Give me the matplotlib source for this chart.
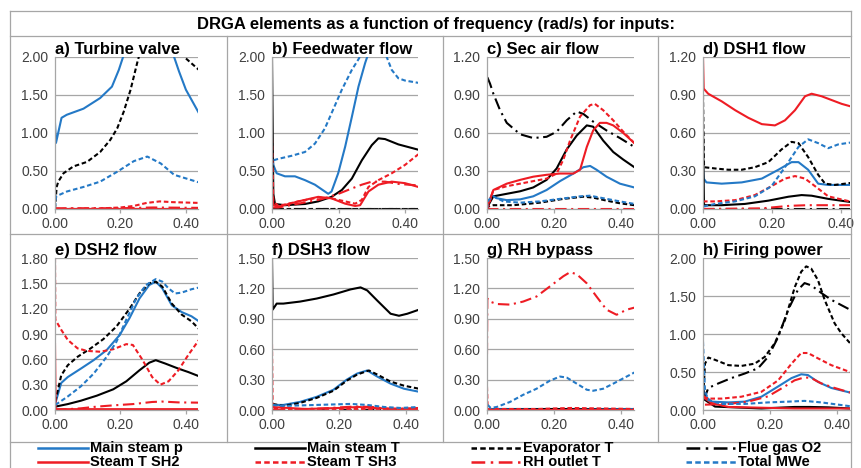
import matplotlib
matplotlib.use("Agg")
import matplotlib.pyplot as plt
from matplotlib.lines import Line2D
from matplotlib.ticker import FormatStrFormatter, MultipleLocator

plt.rcParams["font.family"] = ["Liberation Sans", "DejaVu Sans"]

# ----- series order, colours, line styles -----
SERIES = ["Main steam p", "Main steam T", "Evaporator T", "Flue gas O2",
          "Steam T SH2", "Steam T SH3", "RH outlet T", "Total MWe"]
BLUE = "#2479c6"
RED = "#ee1c24"
BLACK = "#000000"
DASH = (0, (2.2, 1.3))
DASHDOT = (0, (5.5, 2.2, 1.0, 2.2))
STYLE = {
    "Main steam p": (BLUE, "-"),
    "Main steam T": (BLACK, "-"),
    "Evaporator T": (BLACK, DASH),
    "Flue gas O2":  (BLACK, DASHDOT),
    "Steam T SH2":  (RED, "-"),
    "Steam T SH3":  (RED, DASH),
    "RH outlet T":  (RED, DASHDOT),
    "Total MWe":    (BLUE, DASH),
}

# ----- DRGA magnitudes, (frequency list, value list) per output -----
PANEL_A = {
    "Main steam p": ([0, 0.003, 0.02, 0.036, 0.087, 0.138, 0.174, 0.195, 0.208, 0.25, 0.30, 0.34, 0.364, 0.379, 0.40, 0.44],
                     [1.13, 0.87, 1.20, 1.24, 1.32, 1.46, 1.61, 1.83, 2.0, 2.6, 2.9, 2.5, 2.0, 1.81, 1.57, 1.26]),
    "Main steam T": ([0, 0.44], [0.0, 0.0]),
    "Evaporator T": ([0, 0.005, 0.01, 0.026, 0.056, 0.098, 0.138, 0.169, 0.19, 0.21, 0.231, 0.251, 0.256, 0.30, 0.36, 0.395, 0.44],
                     [0.0, 0.29, 0.36, 0.47, 0.56, 0.62, 0.75, 0.91, 1.06, 1.28, 1.57, 1.92, 2.0, 2.6, 2.4, 2.0, 1.83]),
    "Flue gas O2":  ([0, 0.44], [0.0, 0.0]),
    "Steam T SH2":  ([0, 0.44], [0.005, 0.005]),
    "Steam T SH3":  ([0, 0.15, 0.2, 0.24, 0.28, 0.32, 0.36, 0.44],
                     [0.0, 0.01, 0.02, 0.04, 0.08, 0.10, 0.09, 0.08]),
    "RH outlet T":  ([0, 0.2, 0.3, 0.44], [0.01, 0.01, 0.02, 0.015]),
    "Total MWe":    ([0, 0.003, 0.005, 0.036, 0.087, 0.138, 0.19, 0.241, 0.282, 0.323, 0.364, 0.44],
                     [0.02, 0.15, 0.17, 0.23, 0.29, 0.36, 0.49, 0.63, 0.69, 0.60, 0.45, 0.35]),
}
PANEL_B = {
    "Main steam p": ([0, 0.004, 0.014, 0.039, 0.069, 0.099, 0.129, 0.159, 0.169, 0.179, 0.199, 0.22, 0.24, 0.26, 0.28, 0.29, 0.33, 0.44],
                     [0.80, 0.58, 0.47, 0.43, 0.43, 0.38, 0.32, 0.23, 0.20, 0.23, 0.47, 0.82, 1.21, 1.61, 1.92, 2.05, 2.6, 3.0]),
    "Main steam T": ([0, 0.004, 0.009, 0.039, 0.099, 0.139, 0.179, 0.21, 0.24, 0.27, 0.30, 0.32, 0.34, 0.38, 0.44],
                     [2.0, 0.2, 0.066, 0.05, 0.066, 0.10, 0.16, 0.25, 0.40, 0.64, 0.84, 0.93, 0.92, 0.85, 0.78]),
    "Evaporator T": ([0, 0.44], [0.0, 0.0]),
    "Flue gas O2":  ([0, 0.44], [0.003, 0.003]),
    "Steam T SH2":  ([0, 0.004, 0.019, 0.079, 0.139, 0.179, 0.22, 0.25, 0.265, 0.29, 0.32, 0.36, 0.40, 0.44],
                     [0.3, 0.05, 0.03, 0.10, 0.16, 0.14, 0.07, 0.04, 0.05, 0.23, 0.32, 0.36, 0.34, 0.29]),
    "Steam T SH3":  ([0, 0.004, 0.019, 0.079, 0.139, 0.179, 0.22, 0.25, 0.27, 0.29, 0.32, 0.36, 0.40, 0.44],
                     [0.93, 0.1, 0.04, 0.10, 0.15, 0.14, 0.10, 0.07, 0.12, 0.29, 0.38, 0.47, 0.58, 0.72]),
    "RH outlet T":  ([0, 0.019, 0.079, 0.15, 0.20, 0.24, 0.27, 0.30, 0.34, 0.38, 0.44],
                     [0.02, 0.02, 0.07, 0.13, 0.20, 0.27, 0.32, 0.36, 0.36, 0.33, 0.31]),
    "Total MWe":    ([0, 0.004, 0.019, 0.059, 0.099, 0.129, 0.159, 0.179, 0.21, 0.24, 0.26, 0.27, 0.30, 0.335, 0.345, 0.36, 0.38, 0.40, 0.44],
                     [0.55, 0.64, 0.66, 0.70, 0.75, 0.86, 1.06, 1.26, 1.57, 1.83, 1.97, 2.05, 2.4, 2.3, 2.0, 1.83, 1.72, 1.69, 1.66]),
}
PANEL_C = {
    "Main steam p": ([0, 0.004, 0.014, 0.029, 0.059, 0.099, 0.138, 0.178, 0.218, 0.258, 0.288, 0.308, 0.327, 0.357, 0.397, 0.44],
                     [0.0, 0.04, 0.11, 0.085, 0.07, 0.076, 0.10, 0.15, 0.22, 0.28, 0.33, 0.34, 0.31, 0.255, 0.20, 0.17]),
    "Main steam T": ([0, 0.004, 0.019, 0.059, 0.099, 0.138, 0.178, 0.208, 0.238, 0.268, 0.298, 0.317, 0.347, 0.377, 0.407, 0.44],
                     [0.0, 0.03, 0.10, 0.12, 0.14, 0.17, 0.23, 0.32, 0.47, 0.58, 0.66, 0.65, 0.54, 0.45, 0.39, 0.33]),
    "Evaporator T": ([0, 0.004, 0.019, 0.079, 0.158, 0.228, 0.288, 0.317, 0.357, 0.397, 0.44],
                     [0.0, 0.02, 0.03, 0.03, 0.05, 0.08, 0.097, 0.09, 0.066, 0.045, 0.03]),
    "Flue gas O2":  ([0.001, 0.009, 0.019, 0.039, 0.059, 0.099, 0.138, 0.178, 0.208, 0.238, 0.268, 0.288, 0.317, 0.357, 0.397, 0.44],
                     [1.04, 0.99, 0.91, 0.78, 0.68, 0.59, 0.56, 0.57, 0.61, 0.70, 0.77, 0.75, 0.69, 0.62, 0.56, 0.49]),
    "Steam T SH2":  ([0, 0.004, 0.019, 0.059, 0.099, 0.138, 0.178, 0.218, 0.258, 0.278, 0.298, 0.317, 0.337, 0.357, 0.377, 0.407, 0.44],
                     [0.0, 0.04, 0.15, 0.20, 0.23, 0.255, 0.27, 0.28, 0.28, 0.31, 0.49, 0.62, 0.68, 0.68, 0.66, 0.60, 0.52]),
    "Steam T SH3":  ([0, 0.004, 0.019, 0.059, 0.099, 0.138, 0.178, 0.208, 0.228, 0.248, 0.278, 0.308, 0.322, 0.347, 0.377, 0.407, 0.44],
                     [0.0, 0.02, 0.15, 0.18, 0.20, 0.22, 0.24, 0.28, 0.39, 0.54, 0.73, 0.82, 0.83, 0.78, 0.70, 0.61, 0.52]),
    "RH outlet T":  ([0, 0.44], [0.003, 0.003]),
    "Total MWe":    ([0, 0.004, 0.019, 0.049, 0.099, 0.158, 0.218, 0.278, 0.308, 0.357, 0.397, 0.44],
                     [0.0, 0.07, 0.10, 0.06, 0.05, 0.06, 0.08, 0.10, 0.105, 0.08, 0.06, 0.04]),
}
PANEL_D = {
    "Main steam p": ([0, 0.002, 0.01, 0.054, 0.112, 0.17, 0.218, 0.256, 0.276, 0.304, 0.333, 0.362, 0.44],
                     [0.32, 0.24, 0.21, 0.20, 0.21, 0.24, 0.31, 0.37, 0.37, 0.31, 0.20, 0.19, 0.19]),
    "Main steam T": ([0, 0.003, 0.054, 0.121, 0.189, 0.247, 0.285, 0.314, 0.362, 0.44],
                     [0.62, 0.03, 0.03, 0.04, 0.066, 0.097, 0.11, 0.105, 0.08, 0.05]),
    "Evaporator T": ([0, 0.003, 0.035, 0.073, 0.112, 0.15, 0.189, 0.227, 0.256, 0.276, 0.304, 0.333, 0.353, 0.381, 0.44],
                     [0.9, 0.33, 0.32, 0.31, 0.31, 0.33, 0.37, 0.47, 0.53, 0.52, 0.41, 0.27, 0.20, 0.19, 0.21]),
    "Flue gas O2":  ([0, 0.44], [0.0, 0.0]),
    "Steam T SH2":  ([0, 0.002, 0.015, 0.054, 0.093, 0.131, 0.17, 0.208, 0.237, 0.266, 0.295, 0.314, 0.343, 0.372, 0.401, 0.44],
                     [1.2, 0.95, 0.91, 0.85, 0.78, 0.72, 0.67, 0.66, 0.70, 0.78, 0.89, 0.91, 0.89, 0.86, 0.83, 0.80]),
    "Steam T SH3":  ([0, 0.035, 0.093, 0.15, 0.198, 0.237, 0.266, 0.295, 0.324, 0.362, 0.44],
                     [0.06, 0.06, 0.07, 0.11, 0.18, 0.24, 0.26, 0.24, 0.18, 0.10, 0.05]),
    "RH outlet T":  ([0, 0.17, 0.25, 0.30, 0.44], [0.0, 0.005, 0.025, 0.03, 0.03]),
    "Total MWe":    ([0.002, 0.035, 0.093, 0.15, 0.198, 0.237, 0.276, 0.304, 0.333, 0.362, 0.391, 0.44],
                     [0.02, 0.04, 0.06, 0.10, 0.18, 0.33, 0.49, 0.55, 0.52, 0.48, 0.51, 0.53]),
}
PANEL_E = {
    "Main steam p": ([0.001, 0.019, 0.039, 0.079, 0.118, 0.158, 0.198, 0.228, 0.258, 0.288, 0.308, 0.328, 0.357, 0.387, 0.417, 0.44],
                     [0.08, 0.32, 0.39, 0.49, 0.59, 0.71, 0.89, 1.09, 1.32, 1.48, 1.52, 1.44, 1.24, 1.16, 1.11, 1.05]),
    "Main steam T": ([0.001, 0.039, 0.079, 0.128, 0.178, 0.218, 0.258, 0.288, 0.308, 0.337, 0.377, 0.407, 0.44],
                     [0.04, 0.07, 0.11, 0.17, 0.245, 0.34, 0.47, 0.56, 0.59, 0.55, 0.49, 0.45, 0.40]),
    "Evaporator T": ([0.001, 0.019, 0.039, 0.069, 0.109, 0.148, 0.188, 0.228, 0.258, 0.288, 0.308, 0.328, 0.357, 0.387, 0.417, 0.44],
                     [0.10, 0.41, 0.53, 0.63, 0.73, 0.84, 0.99, 1.20, 1.38, 1.50, 1.52, 1.46, 1.26, 1.13, 1.05, 0.96]),
    "Flue gas O2":  ([0, 0.44], [0.0, 0.0]),
    "Steam T SH2":  ([0, 0.002, 0.44], [0.78, 0.01, 0.01]),
    "Steam T SH3":  ([0, 0.001, 0.019, 0.039, 0.069, 0.098, 0.138, 0.178, 0.218, 0.238, 0.268, 0.297, 0.322, 0.347, 0.377, 0.407, 0.44],
                     [1.8, 1.07, 0.95, 0.83, 0.73, 0.70, 0.69, 0.72, 0.78, 0.77, 0.59, 0.39, 0.30, 0.34, 0.47, 0.65, 0.83]),
    "RH outlet T":  ([0, 0.079, 0.128, 0.178, 0.238, 0.297, 0.327, 0.377, 0.44],
                     [0.0, 0.02, 0.04, 0.055, 0.07, 0.095, 0.10, 0.09, 0.087]),
    "Total MWe":    ([0.001, 0.039, 0.079, 0.118, 0.158, 0.188, 0.218, 0.248, 0.278, 0.308, 0.328, 0.347, 0.367, 0.387, 0.417, 0.44],
                     [0.06, 0.16, 0.28, 0.43, 0.63, 0.81, 1.07, 1.32, 1.48, 1.55, 1.52, 1.44, 1.38, 1.39, 1.43, 1.45]),
}
PANEL_F = {
    "Main steam p": ([0.002, 0.034, 0.084, 0.134, 0.184, 0.224, 0.255, 0.285, 0.315, 0.355, 0.395, 0.44],
                     [0.05, 0.05, 0.08, 0.13, 0.20, 0.30, 0.36, 0.39, 0.33, 0.26, 0.21, 0.18]),
    "Main steam T": ([0, 0.002, 0.014, 0.034, 0.084, 0.134, 0.184, 0.235, 0.265, 0.285, 0.315, 0.355, 0.38, 0.405, 0.44],
                     [1.5, 0.99, 1.05, 1.05, 1.07, 1.10, 1.14, 1.19, 1.21, 1.18, 1.08, 0.95, 0.93, 0.95, 0.99]),
    "Evaporator T": ([0.002, 0.034, 0.084, 0.134, 0.184, 0.224, 0.255, 0.29, 0.315, 0.355, 0.395, 0.44],
                     [0.06, 0.04, 0.07, 0.12, 0.19, 0.29, 0.35, 0.39, 0.35, 0.28, 0.24, 0.21]),
    "Flue gas O2":  ([0, 0.44], [0.0, 0.0]),
    "Steam T SH2":  ([0, 0.1, 0.2, 0.26, 0.3, 0.44], [0.03, 0.01, 0.02, 0.03, 0.02, 0.005]),
    "Steam T SH3":  ([0, 0.002, 0.44], [0.65, 0.01, 0.01]),
    "RH outlet T":  ([0, 0.15, 0.25, 0.30, 0.35, 0.44], [0.0, 0.015, 0.035, 0.03, 0.01, 0.02]),
    "Total MWe":    ([0.002, 0.034, 0.134, 0.235, 0.285, 0.335, 0.385, 0.44],
                     [0.05, 0.04, 0.05, 0.06, 0.05, 0.03, 0.02, 0.03]),
}
PANEL_G = {
    "Main steam p": ([0, 0.44], [0.005, 0.005]),
    "Main steam T": ([0, 0.2, 0.44], [0.0, 0.01, 0.0]),
    "Evaporator T": ([0, 0.44], [0.0, 0.0]),
    "Flue gas O2":  ([0, 0.44], [0.0, 0.0]),
    "Steam T SH2":  ([0, 0.44], [0.003, 0.003]),
    "Steam T SH3":  ([0, 0.002, 0.15, 0.25, 0.44], [0.23, 0.01, 0.01, 0.02, 0.01]),
    "RH outlet T":  ([0, 0.001, 0.009, 0.029, 0.069, 0.108, 0.148, 0.188, 0.228, 0.248, 0.268, 0.298, 0.327, 0.357, 0.387, 0.417, 0.44],
                     [0.55, 1.10, 1.07, 1.046, 1.04, 1.07, 1.12, 1.22, 1.32, 1.36, 1.34, 1.25, 1.12, 0.99, 0.94, 0.99, 1.01]),
    "Total MWe":    ([0.002, 0.011, 0.029, 0.069, 0.108, 0.148, 0.188, 0.218, 0.238, 0.268, 0.298, 0.317, 0.347, 0.377, 0.44],
                     [0.05, 0.02, 0.03, 0.08, 0.15, 0.21, 0.29, 0.33, 0.32, 0.26, 0.20, 0.19, 0.21, 0.26, 0.37]),
}
PANEL_H = {
    "Main steam p": ([0, 0.006, 0.026, 0.076, 0.125, 0.175, 0.225, 0.265, 0.294, 0.314, 0.344, 0.384, 0.44],
                     [0.30, 0.18, 0.11, 0.10, 0.11, 0.175, 0.31, 0.42, 0.47, 0.46, 0.37, 0.29, 0.23]),
    "Main steam T": ([0, 0.036, 0.175, 0.274, 0.32, 0.374, 0.44], [0.15, 0.045, 0.02, 0.04, 0.04, 0.035, 0.02]),
    "Evaporator T": ([0.001, 0.006, 0.016, 0.036, 0.076, 0.115, 0.155, 0.185, 0.215, 0.245, 0.275, 0.294, 0.309, 0.324, 0.344, 0.364, 0.394, 0.414, 0.44],
                     [0.20, 0.61, 0.69, 0.66, 0.59, 0.58, 0.61, 0.70, 0.88, 1.18, 1.62, 1.82, 1.89, 1.86, 1.71, 1.45, 1.14, 1.01, 0.88]),
    "Flue gas O2":  ([0.002, 0.016, 0.046, 0.085, 0.125, 0.165, 0.195, 0.225, 0.255, 0.284, 0.304, 0.324, 0.354, 0.384, 0.414, 0.44],
                     [0.13, 0.29, 0.35, 0.42, 0.48, 0.55, 0.70, 0.96, 1.32, 1.58, 1.67, 1.64, 1.54, 1.45, 1.38, 1.32]),
    "Steam T SH2":  ([0, 0.026, 0.076, 0.175, 0.274, 0.44], [0.17, 0.09, 0.04, 0.03, 0.02, 0.02]),
    "Steam T SH3":  ([0.002, 0.016, 0.056, 0.115, 0.175, 0.225, 0.265, 0.294, 0.314, 0.344, 0.384, 0.44],
                     [0.18, 0.15, 0.15, 0.175, 0.24, 0.39, 0.61, 0.75, 0.75, 0.68, 0.59, 0.50]),
    "RH outlet T":  ([0.006, 0.076, 0.135, 0.195, 0.245, 0.274, 0.304, 0.324, 0.354, 0.394, 0.44],
                     [0.07, 0.08, 0.11, 0.18, 0.31, 0.39, 0.43, 0.42, 0.35, 0.29, 0.23]),
    "Total MWe":    ([0, 0.006, 0.016, 0.056, 0.125, 0.195, 0.255, 0.304, 0.354, 0.44],
                     [0.9, 0.25, 0.13, 0.08, 0.08, 0.10, 0.11, 0.12, 0.10, 0.05]),
}

PANELS = [PANEL_A, PANEL_B, PANEL_C, PANEL_D, PANEL_E, PANEL_F, PANEL_G, PANEL_H]
TITLES = ["a) Turbine valve", "b) Feedwater flow", "c) Sec air flow", "d) DSH1 flow",
          "e) DSH2 flow", "f) DSH3 flow", "g) RH bypass", "h) Firing power"]
Y_MAX = [2.0, 2.0, 1.2, 1.2, 1.8, 1.5, 1.5, 2.0]
Y_STEP = [0.5, 0.5, 0.3, 0.3, 0.3, 0.3, 0.3, 0.5]
X_MAX = [0.437, 0.439, 0.439, 0.425, 0.437, 0.437, 0.439, 0.44]
X_TICKS = [0.0, 0.2, 0.4]

# ----- page geometry in pixels -----
W, H = 861, 468
COL_EDGES = [10, 227, 443, 658, 851]
AX_LEFT = [55, 272, 487, 703]
AX_RIGHT = [198, 418, 634, 850]
ROW_TOP = [57, 258]
ROW_BOTTOM = [209, 410]
GRID = "#a6a6a6"
TEXT = "#404040"


def fig_line(fig, x0, y0, x1, y1, color=GRID, lw=0.9):
    fig.add_artist(Line2D([x0 / W, x1 / W], [1 - y0 / H, 1 - y1 / H],
                          transform=fig.transFigure, color=color, lw=lw))


def draw_panel(fig, idx):
    row, col = divmod(idx, 4)
    left, right = AX_LEFT[col], AX_RIGHT[col]
    top, bottom = ROW_TOP[row], ROW_BOTTOM[row]
    ax = fig.add_axes([left / W, 1 - bottom / H, (right - left) / W, (bottom - top) / H])

    for name in SERIES:
        xs, ys = PANELS[idx][name]
        color, ls = STYLE[name]
        ax.plot(xs, ys, color=color, linestyle=ls, lw=1.5)

    ax.set_xlim(0, X_MAX[idx])
    ax.set_ylim(0, Y_MAX[idx])
    ax.set_xticks(X_TICKS)
    ax.yaxis.set_major_locator(MultipleLocator(Y_STEP[idx]))
    ax.xaxis.set_major_formatter(FormatStrFormatter("%.2f"))
    ax.yaxis.set_major_formatter(FormatStrFormatter("%.2f"))
    ax.grid(axis="y", color=GRID, lw=0.9)
    ax.set_axisbelow(True)
    for side in ("top", "right"):
        ax.spines[side].set_visible(False)
    for side in ("left", "bottom"):
        ax.spines[side].set_color(GRID)
        ax.spines[side].set_linewidth(0.9)
    ax.tick_params(axis="y", length=0, pad=5, labelsize=10, labelcolor=TEXT)
    ax.tick_params(axis="x", length=3, width=0.9, color=GRID, pad=3,
                   labelsize=10, labelcolor=TEXT)
    ax.text(0.0, 1.0, TITLES[idx], transform=ax.transAxes, ha="left", va="bottom",
            fontsize=12, fontweight="bold")
    return ax


def main():
    fig = plt.figure(figsize=(W / 100, H / 100), dpi=100)

    # table frame
    fig_line(fig, 10, 11, 851, 11)
    fig_line(fig, 10, 11, 10, H)
    fig_line(fig, 851, 11, 851, H)
    fig_line(fig, 10, 36, 851, 36)
    fig_line(fig, 10, 234, 851, 234)
    fig_line(fig, 10, 442, 851, 442)
    for x in COL_EDGES[1:-1]:
        fig_line(fig, x, 36, x, 442)

    fig.text(436 / W, 1 - 24 / H,
             "DRGA elements as a function of frequency (rad/s) for inputs:",
             ha="center", va="center", fontsize=12, fontweight="bold")

    for i in range(8):
        draw_panel(fig, i)

    # legend laid out on the column grid
    for k, name in enumerate(SERIES):
        row, col = divmod(k, 4)
        y = 1 - (448 + 13.5 * row) / H
        x0 = COL_EDGES[col] + 28
        color, ls = STYLE[name]
        fig.add_artist(Line2D([x0 / W, (x0 + 50) / W], [y, y], transform=fig.transFigure,
                              color=color, linestyle=ls, lw=1.8))
        fig.text((x0 + 52) / W, y, name, ha="left", va="center", fontsize=10.5,
                 fontweight="bold", family=["Liberation Sans Narrow", "Liberation Sans"])

    fig.savefig("out.png", dpi=100)
    plt.close(fig)


if __name__ == "__main__":
    main()
